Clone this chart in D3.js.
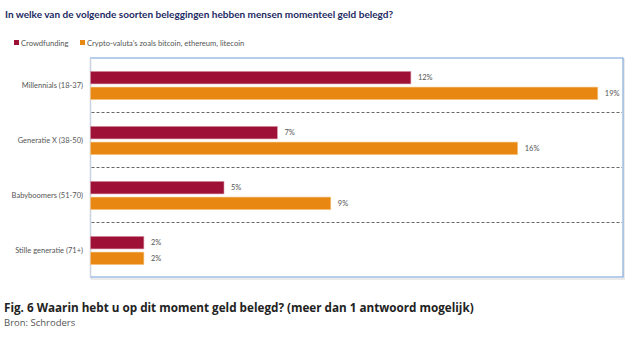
<!DOCTYPE html>
<html><head><meta charset="utf-8">
<script src="https://cdn.jsdelivr.net/npm/d3@7"></script>
<style>body{margin:0;background:#fff;} svg{display:block;}</style>
</head><body>
<script>
const categories = ["Millennials (18-37)", "Generatie X (38-50)", "Babyboomers (51-70)", "Stille generatie (71+)"];
const seriesNames = ["Crowdfunding", "Crypto-valuta’s zoals bitcoin, ethereum, litecoin"];
const crowdfunding = [12, 7, 5, 2];
const crypto = [19, 16, 9, 2];
const valueLabels = [["12%","7%","5%","2%"],["19%","16%","9%","2%"]];
const colors = ["#9e1036", "#e88812"];

(function(){
const W = 631, H = 338;
const svg = d3.select("body").append("svg").attr("width", W).attr("height", H);
const font = "Lato, 'Open Sans', sans-serif";

const title = svg.append("text").attr("x", 5).attr("y", 18)
  .attr("font-family", "Lato, sans-serif").attr("font-weight", "bold")
  .attr("font-size", 10.5).attr("fill", "#1c2a63")
  .text("In welke van de volgende soorten beleggingen hebben mensen momenteel geld belegd?");
const tw = title.node().getComputedTextLength();
if (tw > 0) title.attr("font-size", 10.5 * 389 / tw);

// legend
const legX = [14, 80];
seriesNames.forEach((n, i) => {
  svg.append("rect").attr("x", legX[i]).attr("y", 40).attr("width", 5).attr("height", 5).attr("fill", colors[i]);
  svg.append("text").attr("x", legX[i] + 7).attr("y", 45.5).attr("font-family", font)
    .attr("font-size", 7.6).attr("fill", "#555").text(n);
});

const pl = 90.5, pr = 623, pt = 58, pb = 278;
const x = d3.scaleLinear().domain([0, 20]).range([pl, pl + 26.7 * 20]);
const y = d3.scaleBand().domain(categories).range([pt, pb]);
const inner = d3.scaleBand().domain([0, 1]).range([0, y.bandwidth()]).paddingInner(0.2).paddingOuter(0.85);

// frame shadow
svg.append("rect").attr("x", pl + 1).attr("y", pt + 1).attr("width", pr - pl).attr("height", pb - pt)
  .attr("fill", "none").attr("stroke", "#e4e4e4").attr("stroke-width", 1.5);
svg.append("rect").attr("x", pl).attr("y", pt).attr("width", pr - pl).attr("height", pb - pt - 1)
  .attr("fill", "#fff").attr("stroke", "#6e9bd8").attr("stroke-width", 1);
svg.append("line").attr("x1", pl).attr("x2", pl).attr("y1", pt).attr("y2", pb - 1)
  .attr("stroke", "#c9d3df").attr("stroke-width", 1.5);

// dashed separators
categories.slice(1).forEach(c => {
  svg.append("line").attr("x1", pl + 1).attr("x2", pr - 1)
    .attr("y1", Math.round(y(c)) - 0.5).attr("y2", Math.round(y(c)) - 0.5)
    .attr("stroke", "#666").attr("stroke-width", 1).attr("stroke-dasharray", "3,2");
});

const series = [crowdfunding, crypto];
series.forEach((vals, si) => {
  vals.forEach((v, ci) => {
    const by = y(categories[ci]) + inner(si);
    svg.append("rect").attr("x", x(0)).attr("y", by).attr("width", x(v) - x(0)).attr("height", inner.bandwidth())
      .attr("fill", colors[si]).attr("stroke", si === 0 ? "#d69aa6" : "#f5c98a").attr("stroke-width", 0.6);
    svg.append("text").attr("x", x(v) + 7).attr("y", by + inner.bandwidth() / 2 + 2.8)
      .attr("font-family", font).attr("font-size", 7.5).attr("fill", "#555").text(valueLabels[si][ci]);
  });
});

// category labels
categories.forEach(c => {
  svg.append("text").attr("x", 83).attr("y", y(c) + y.bandwidth() / 2 + 2.5)
    .attr("text-anchor", "end").attr("font-family", font).attr("font-size", 7.5).attr("fill", "#555").text(c);
});

svg.append("text").attr("x", 4).attr("y", 312)
  .attr("font-family", "'Open Sans', sans-serif").attr("font-weight", "bold").attr("font-size", 11.7).attr("fill", "#222")
  .text("Fig. 6 Waarin hebt u op dit moment geld belegd? (meer dan 1 antwoord mogelijk)");
svg.append("text").attr("x", 4).attr("y", 326)
  .attr("font-family", "'Open Sans', sans-serif").attr("font-size", 9.5).attr("fill", "#555")
  .text("Bron: Schroders");
})();
</script>
</body></html>
